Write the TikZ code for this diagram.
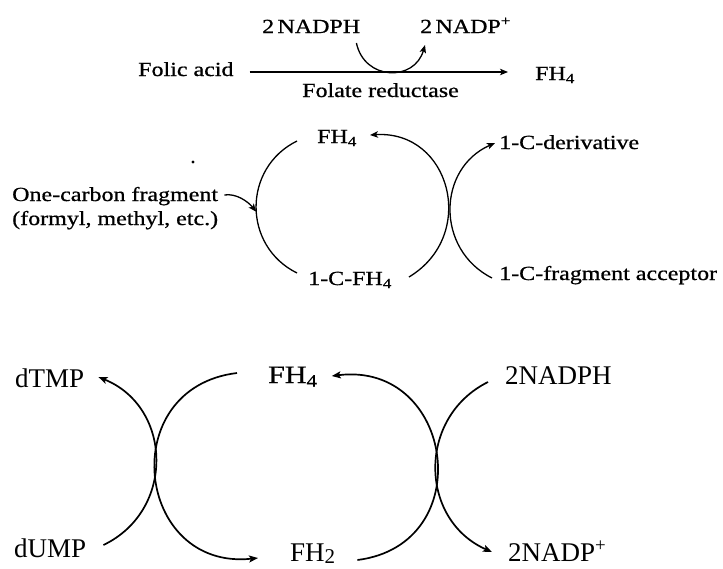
\documentclass[tikz,border=0pt]{standalone}
\usepackage{fontspec}
\setmainfont{Liberation Serif}
\newfontfamily\bookfont[FakeStretch=1.2,FakeBold=0.8]{Liberation Serif}
\usetikzlibrary{arrows.meta}
\begin{document}
\begin{tikzpicture}[x=1pt,y=-1pt,
  lbl/.style={inner sep=0pt, anchor=base west, font=\bookfont\fontsize{20}{24}\selectfont},
  lblbig/.style={inner sep=0pt, anchor=base west, font=\bookfont\fontsize{25}{30}\selectfont},
  lblrm/.style={inner sep=0pt, anchor=base west, font=\fontsize{27}{32}\selectfont},
  strokeA/.style={line width=1.3pt},
  strokeB/.style={line width=1.7pt},
  flowA/.style={strokeA, -{Stealth[length=8pt,width=6.5pt,inset=2pt]}},
  flowB/.style={strokeB, -{Stealth[length=9pt,width=7pt,inset=2pt]}}]
\fill[white] (0,0) rectangle (723,568);
\useasboundingbox (0,0) rectangle (723,568);

% --- folate reductase step ---
\node[lbl] (folic)  at (138,76) {Folic acid};
\node[lbl] (nadphT) at (262,33) {2\,NADPH};
\node[lbl] (nadpT)  at (420,33) {2\,NADP\textsuperscript{+}};
\node[lbl] (fh4T)   at (535,80) {FH\textsubscript{4}};
\node[lbl] (folred) at (302,97) {Folate reductase};

\draw[flowA] ([shift={(16,-4)}]folic.base east) -- ([shift={(-27,-8)}]fh4T.base west);
\draw[flowA] ([shift={(-4,10)}]nadphT.base east)
  .. controls +(8,37.7) and +(-10.6,37) .. ([shift={(5,12)}]nadpT.base west);

% --- one-carbon transfer cycle ---
\node[lbl] (fh4M)    at (317,143) {FH\textsubscript{4}};
\node[lbl] (cfh4)    at (308,285) {1-C-FH\textsubscript{4}};
\node[lbl] (frag)    at (12,201)  {One-carbon fragment};
\node[lbl] (fragsub) at (12,225)  {(formyl, methyl, etc.)};
\node[lbl] (deriv)   at (499,149) {1-C-derivative};
\node[lbl] (accept)  at (499,280) {1-C-fragment acceptor};

\draw[strokeA] ([shift={(-20,-2)}]fh4M.base west)
  .. controls +(-54.6,27) and +(-54.6,-27) .. coordinate[pos=0.53] (inlet)
  ([shift={(-11,-12)}]cfh4.base west);
\draw[flowA] ([shift={(6,-6)}]frag.base east)
  .. controls +(12,-2) and +(-8,-10) .. (inlet);
\draw[flowA] ([shift={(17,-8)}]cfh4.base east)
  .. controls +(69.2,-41.6) and +(80.6,-5.2) .. ([shift={(13,-8)}]fh4M.base east);
\draw[flowA] ([shift={(-7,-2)}]accept.base west)
  .. controls +(-56.5,-28.5) and +(-57.9,25.5) .. ([shift={(-4,-6)}]deriv.base west);

\fill (193,162) circle[radius=1.7pt];

% --- thymidylate synthase / dihydrofolate reductase ---
\node[lblrm]  (dtmp)   at (15,387)  {dTMP};
\node[lblrm]  (dump)   at (14,557)  {dUMP};
\node[lblbig] (fh4B)   at (268,383) {FH\textsubscript{4}};
\node[lblrm]  (fh2)    at (290,561) {FH{\fontsize{21}{21}\selectfont\raisebox{-2pt}{2}}};
\node[lblrm]  (nadphB) at (505,384) {2NADPH};
\node[lblrm]  (nadpB)  at (508,561) {2NADP\textsuperscript{+}};

\draw[flowB] ([shift={(17,-12)}]dump.base east)
  .. controls +(72,-34.4) and +(74,30) .. ([shift={(14,-10)}]dtmp.base east);
\draw[flowB] ([shift={(-31,-10)}]fh4B.base west)
  .. controls +(-122.4,14.8) and +(-122.6,13.1) .. ([shift={(-32,-3)}]fh2.base west);
\draw[flowB] ([shift={(22,-1)}]fh2.base east)
  .. controls +(122.5,-15.5) and +(122.5,-15.3) .. ([shift={(14,-7)}]fh4B.base east);
\draw[flowB] ([shift={(-17,-2)}]nadphB.base west)
  .. controls +(-71.2,35.5) and +(-72.8,-32) .. ([shift={(-16,-9)}]nadpB.base west);
\end{tikzpicture}
\end{document}
